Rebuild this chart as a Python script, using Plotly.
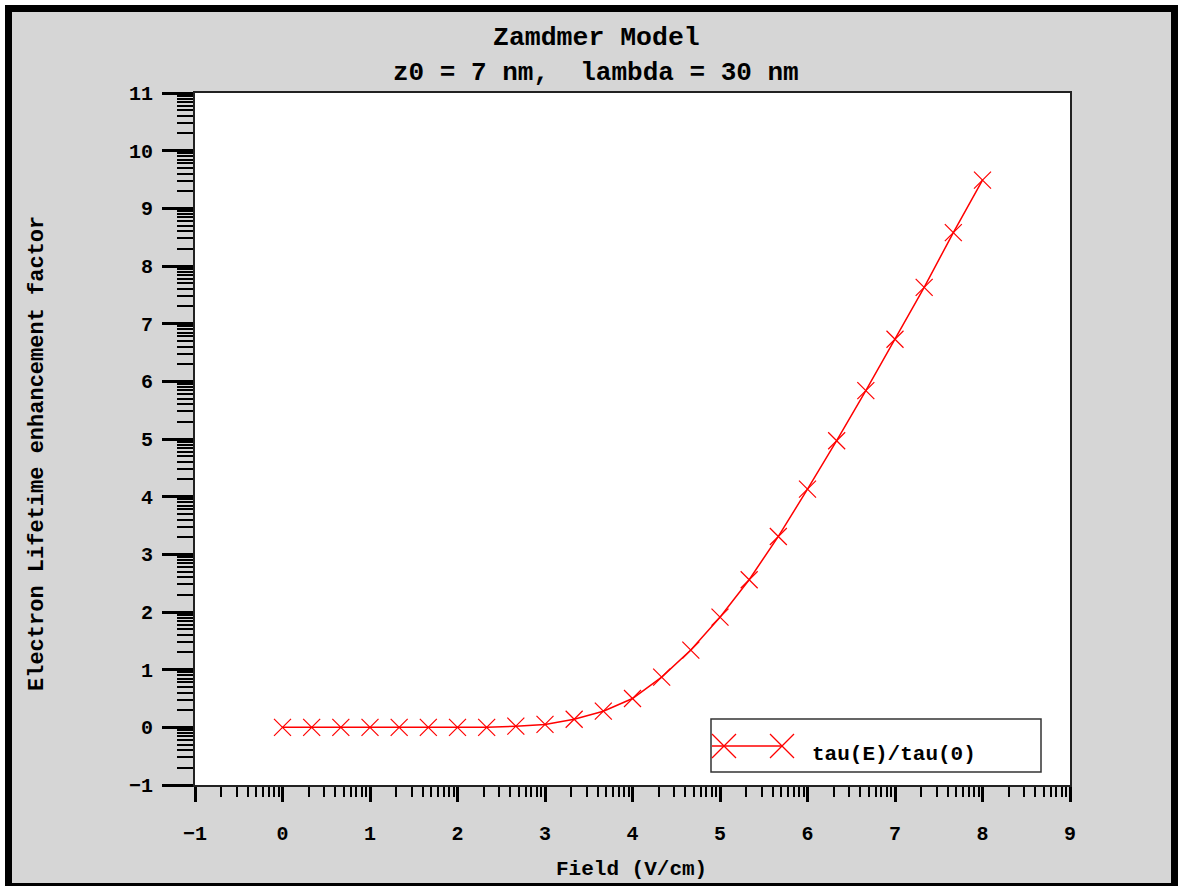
import math
import plotly.graph_objects as go

# ---------------- data ----------------
field = [0, 1/3, 2/3, 1, 4/3, 5/3, 2, 7/3, 8/3, 3, 10/3, 11/3, 4, 13/3, 14/3,
         5, 16/3, 17/3, 6, 19/3, 20/3, 7, 22/3, 23/3, 8]
ratio = [0.0, 0.0, 0.0, 0.0, 0.0, 0.0, 0.0, 0.0, 0.02, 0.05, 0.14, 0.28, 0.50,
         0.87, 1.34, 1.91, 2.56, 3.31, 4.13, 4.97, 5.84, 6.73, 7.63, 8.58, 9.49]
x_ticks = list(range(-1, 10))
y_ticks = list(range(-1, 12))
series_name = "tau(E)/tau(0)"
title1 = "Zamdmer Model"
title2 = "z0 = 7 nm,  lambda = 30 nm"
x_title = "Field (V/cm)"
y_title = "Electron Lifetime enhancement factor"

# ---------------- layout geometry ----------------
W, H = 1178, 886
L, R, T, B = 195, 1070, 93, 785
PW, PH = R - L, B - T


def px(x):
    return (x - L) / PW


def py(y):
    return (B - y) / PH


FONT = "Liberation Mono, Courier New, monospace"
GREY = "#d6d6d6"
RED = "#ff0000"


def log_minor(lo, hi):
    vals = []
    for n in range(lo, hi):
        for k in range(2, 10):
            vals.append(n + math.log10(k))
    return vals


fig = go.Figure()
fig.add_trace(go.Scatter(
    x=field, y=ratio, mode="lines+markers", name=series_name,
    line=dict(color=RED, width=1.5),
    marker=dict(symbol="x-thin", size=17, line=dict(color=RED, width=1.2)),
    showlegend=False,
))

axis_common = dict(
    showgrid=False, zeroline=False, showline=True, mirror=True,
    linecolor="#222", linewidth=2, ticks="outside", tickcolor="black",
    tickwidth=3, tickfont=dict(family=FONT, size=20, color="black", weight="bold"),
)

fig.update_xaxes(
    range=[-1, 9], tickmode="array", tickvals=x_ticks,
    ticktext=[("\u22121" if v < 0 else str(v)) for v in x_ticks],
    ticklen=15, ticklabelstandoff=14,
    minor=dict(tickmode="array", tickvals=log_minor(-1, 9), ticks="outside",
               ticklen=10, tickwidth=1.5, tickcolor="black", showgrid=False),
    **axis_common,
)
fig.update_yaxes(
    range=[-1, 11], tickmode="array", tickvals=y_ticks,
    ticktext=[("\u22121" if v < 0 else str(v)) for v in y_ticks],
    ticklen=31, ticklabelstandoff=5,
    minor=dict(tickmode="array", tickvals=log_minor(-1, 11), ticks="outside",
               ticklen=16, tickwidth=1.5, tickcolor="black", showgrid=False),
    **axis_common,
)

shapes = []
# white strips at top and left of page
shapes.append(dict(type="rect", xref="paper", yref="paper", x0=px(-5), x1=px(W + 5),
                   y0=py(5), y1=py(-5), fillcolor="white", line=dict(width=0), layer="above"))
shapes.append(dict(type="rect", xref="paper", yref="paper", x0=px(-5), x1=px(5),
                   y0=py(H + 5), y1=py(-5), fillcolor="white", line=dict(width=0), layer="above"))
# black outer frame
shapes.append(dict(type="rect", xref="paper", yref="paper", x0=px(8.5), x1=px(1174.5),
                   y0=py(886.5), y1=py(8.5), line=dict(color="black", width=7),
                   fillcolor="rgba(0,0,0,0)", layer="above"))
# manual legend
shapes.append(dict(type="rect", xref="paper", yref="paper", x0=px(711), x1=px(1041),
                   y0=py(772), y1=py(719), fillcolor="white",
                   line=dict(color="#333", width=1.5), layer="above"))
shapes.append(dict(type="line", xref="paper", yref="paper", x0=px(712), x1=px(782),
                   y0=py(746), y1=py(746), line=dict(color=RED, width=1.5), layer="above"))
for cx in (724, 782):
    shapes.append(dict(type="line", xref="paper", yref="paper", x0=px(cx - 12), x1=px(cx + 12),
                       y0=py(746 - 12), y1=py(746 + 12), line=dict(color=RED, width=1.2), layer="above"))
    shapes.append(dict(type="line", xref="paper", yref="paper", x0=px(cx - 12), x1=px(cx + 12),
                       y0=py(746 + 12), y1=py(746 - 12), line=dict(color=RED, width=1.2), layer="above"))

annotations = [
    dict(text=title1, xref="paper", yref="paper", x=px(596), y=py(38), showarrow=False,
         xanchor="center", yanchor="middle",
         font=dict(family=FONT, size=26.5, color="black", weight="bold")),
    dict(text=title2, xref="paper", yref="paper", x=px(596), y=py(73), showarrow=False,
         xanchor="center", yanchor="middle",
         font=dict(family=FONT, size=26, color="black", weight="bold")),
    dict(text=x_title, xref="paper", yref="paper", x=px(631), y=py(869), showarrow=False,
         xanchor="center", yanchor="middle",
         font=dict(family=FONT, size=21, color="black", weight="bold")),
    dict(text=y_title, xref="paper", yref="paper", x=px(37), y=py(454), showarrow=False,
         xanchor="center", yanchor="middle", textangle=-90,
         font=dict(family=FONT, size=22, color="black", weight="bold")),
    dict(text=series_name, xref="paper", yref="paper", x=px(810), y=py(754), showarrow=False,
         xanchor="left", yanchor="middle",
         font=dict(family=FONT, size=21, color="black", weight="bold")),
]

fig.update_layout(
    width=W, height=H, autosize=False,
    margin=dict(l=L, r=W - R, t=T, b=H - B, pad=0),
    paper_bgcolor=GREY, plot_bgcolor="white",
    shapes=shapes, annotations=annotations, showlegend=False,
)

fig.write_html("out.html")
